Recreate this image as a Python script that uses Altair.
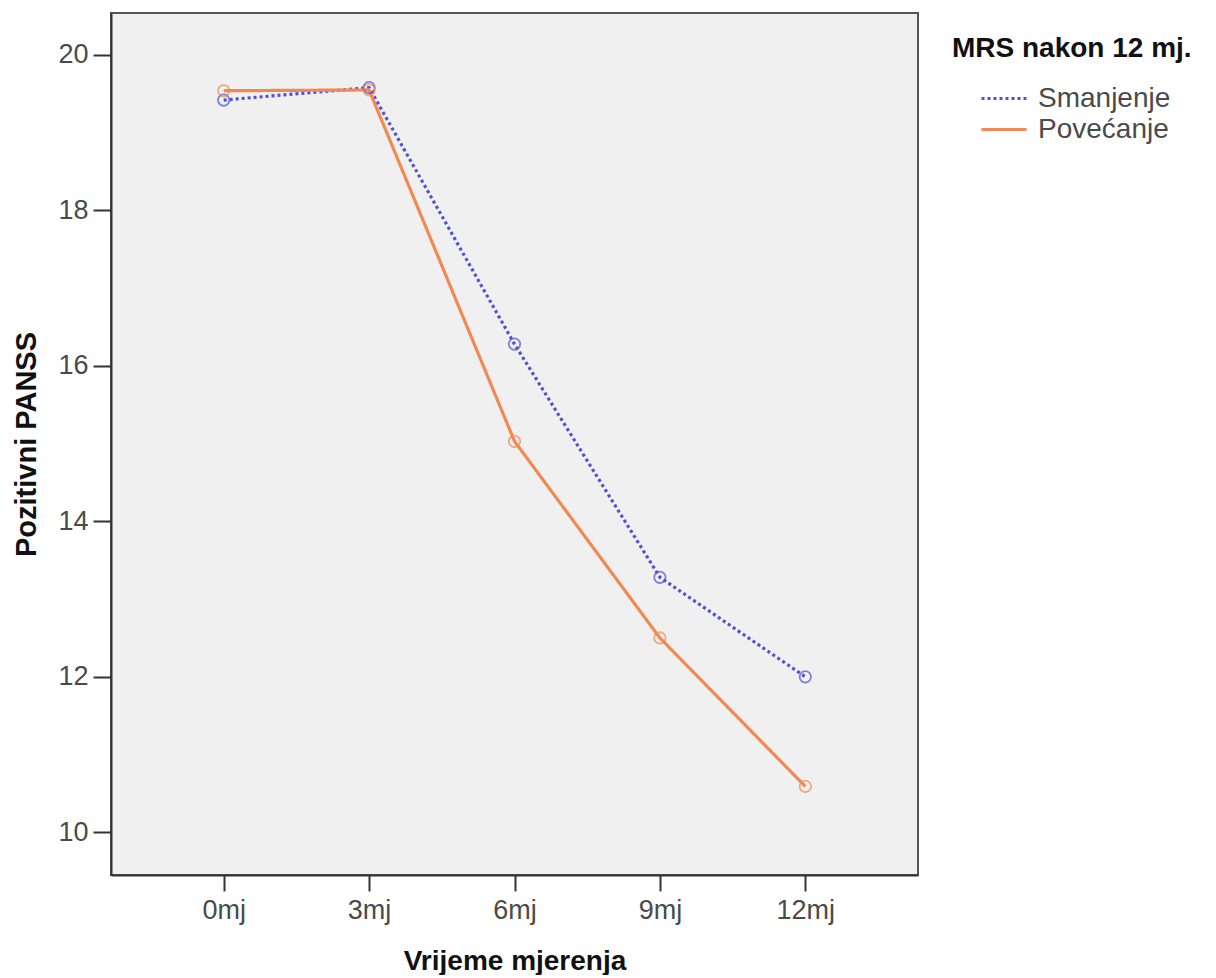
import altair as alt
import pandas as pd

times = ["0mj", "3mj", "6mj", "9mj", "12mj"]
smanjenje = [19.42, 19.58, 16.28, 13.28, 12.0]
povecanje = [19.54, 19.55, 15.03, 12.5, 10.59]
groups = ["Smanjenje", "Povećanje"]
colors = ["#5050d8", "#f08a52"]

rows = []
for t, v in zip(times, smanjenje):
    rows.append({"t": t, "v": v, "g": "Smanjenje"})
for t, v in zip(times, povecanje):
    rows.append({"t": t, "v": v, "g": "Povećanje"})
df = pd.DataFrame(rows)

font = "Liberation Sans"

x = alt.X("t:N", sort=times, scale=alt.Scale(type="point", padding=0.775),
          axis=alt.Axis(title="Vrijeme mjerenja", labelAngle=0, tickSize=16,
                        labelPadding=6, titlePadding=24, labelFontSize=27,
                        titleFontSize=28))
y = alt.Y("v:Q", scale=alt.Scale(domain=[9.45, 20.54], nice=False, zero=False),
          axis=alt.Axis(title="Pozitivni PANSS", values=[10, 12, 14, 16, 18, 20],
                        tickSize=18, labelPadding=5, titlePadding=16, grid=False,
                        labelFontSize=27, titleFontSize=29))
color_scale = alt.Scale(domain=groups, range=colors)

leg = dict(title="MRS nakon 12 mj.", orient="none", legendX=841, legendY=22,
           symbolType="stroke", symbolSize=2025, symbolStrokeWidth=3,
           symbolOffset=28, titleLimit=500, labelLimit=400, clipHeight=29)

lines = alt.Chart(df).mark_line(strokeWidth=3.2).encode(
    x=x, y=y,
    color=alt.Color("g:N", scale=color_scale, sort=groups, legend=alt.Legend(**leg)),
    strokeDash=alt.StrokeDash("g:N", sort=groups,
                              scale=alt.Scale(domain=groups, range=[[3, 3], [1, 0]]),
                              legend=alt.Legend(**leg)),
)

points = alt.Chart(df).mark_point(shape="circle", filled=False, size=130, strokeWidth=1.8).encode(
    x=x, y=y,
    color=alt.Color("g:N", scale=color_scale, sort=groups, legend=None),
)

chart = (lines + points).properties(
    width=807, height=862,
    autosize=alt.AutoSizeParams(type="none"),
    padding={"left": 103, "top": 5, "right": 280, "bottom": 100},
).configure_view(
    fill="#f0f0f0", stroke="#555555", strokeWidth=2
).configure_axis(
    labelFont=font, titleFont=font,
    labelColor="#4a4a4a", titleColor="#111111", titleFontWeight="bold",
    domainColor="#333333", domainWidth=2, tickColor="#333333", tickWidth=2,
).configure_legend(
    titleFont=font, labelFont=font, titleFontSize=28, labelFontSize=28,
    titleFontWeight="bold", titleColor="#111111", labelColor="#4a4a4a",
    rowPadding=2, labelOffset=10, titlePadding=21,
)

chart.save("out.html", embed_options={"renderer": "svg", "actions": False})
